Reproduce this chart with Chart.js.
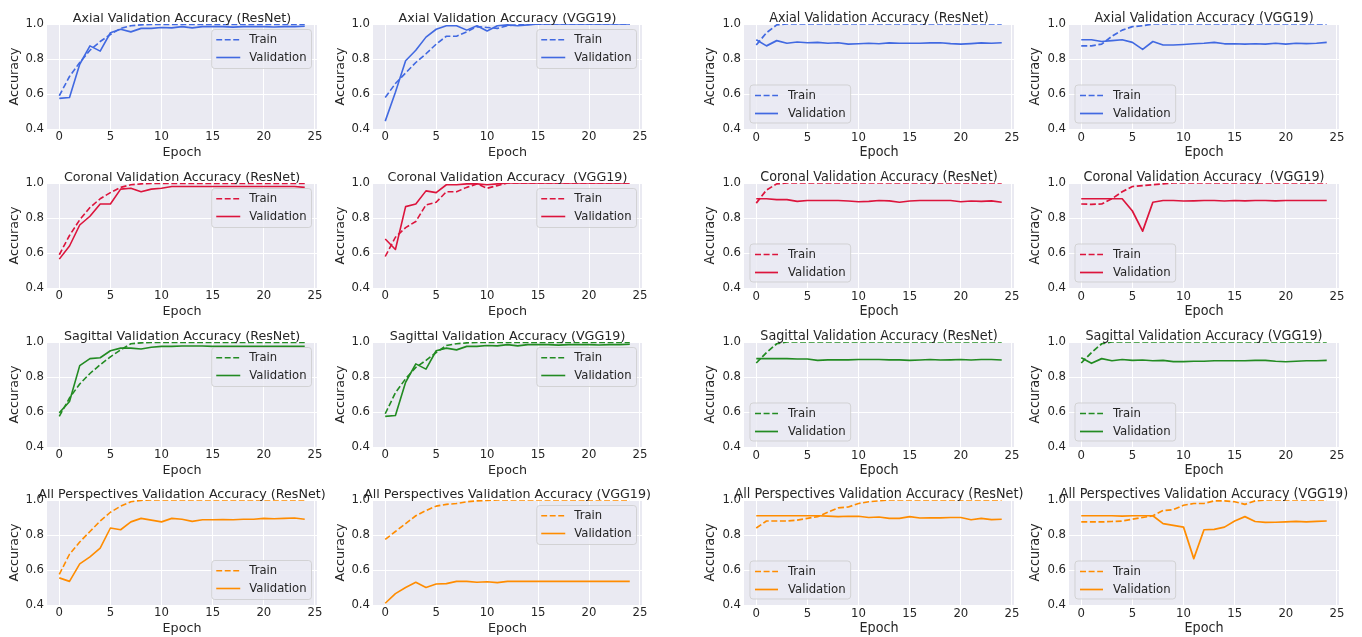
<!DOCTYPE html>
<html><head><meta charset="utf-8">
<script src="https://cdn.jsdelivr.net/npm/chart.js@4.4.1/dist/chart.umd.min.js"></script>
<style>
html,body{margin:0;padding:0;background:#fff;width:1362px;height:637px;overflow:hidden;position:relative}
canvas{position:absolute}
</style></head><body>
<script>
// ---------------- DATA ----------------
const epochs = [0,1,2,3,4,5,6,7,8,9,10,11,12,13,14,15,16,17,18,19,20,21,22,23,24];
const xTicks = [0,5,10,15,20,25];
const yTicks = [0.4,0.6,0.8,1.0];
const seriesLabels = ['Train','Validation'];
const xTitle = 'Epoch';
const yTitle = 'Accuracy';

const titles = [
  'Axial Validation Accuracy (ResNet)','Axial Validation Accuracy (VGG19)','Axial Validation Accuracy (ResNet)','Axial Validation Accuracy (VGG19)',
  'Coronal Validation Accuracy (ResNet)','Coronal Validation Accuracy  (VGG19)','Coronal Validation Accuracy (ResNet)','Coronal Validation Accuracy  (VGG19)',
  'Sagittal Validation Accuracy (ResNet)','Sagittal Validation Accuracy (VGG19)','Sagittal Validation Accuracy (ResNet)','Sagittal Validation Accuracy (VGG19)',
  'All Perspectives Validation Accuracy (ResNet)','All Perspectives Validation Accuracy (VGG19)','All Perspectives Validation Accuracy (ResNet)','All Perspectives Validation Accuracy (VGG19)'
];

// left figure (A)
const axialResnetTrainA = [0.59,0.70,0.78,0.85,0.90,0.94,0.975,0.99,0.995,0.997,0.997,0.997,0.998,0.998,0.998,0.998,0.998,0.998,0.998,0.998,0.998,0.998,0.998,0.998,0.998];
const axialResnetValA   = [0.575,0.58,0.77,0.875,0.845,0.95,0.97,0.955,0.975,0.975,0.98,0.978,0.985,0.978,0.985,0.985,0.985,0.982,0.985,0.985,0.985,0.983,0.985,0.985,0.987];
const axialVggTrainA    = [0.58,0.66,0.72,0.78,0.83,0.885,0.93,0.93,0.955,0.985,0.98,0.975,0.99,0.995,0.998,0.999,1,1,1,1,1,1,1,1,1];
const axialVggValA      = [0.445,0.61,0.79,0.85,0.925,0.97,0.99,0.99,0.965,0.99,0.96,0.99,0.995,0.99,0.995,1,1,1,1,1,1,1,1,1,1];
const coronalResnetTrainA = [0.59,0.70,0.79,0.86,0.91,0.945,0.975,0.99,0.995,0.997,0.998,0.998,0.998,0.998,0.998,0.998,0.998,0.998,0.998,0.998,0.998,0.998,0.998,0.998,0.998];
const coronalResnetValA   = [0.565,0.64,0.76,0.81,0.88,0.88,0.965,0.97,0.95,0.965,0.97,0.98,0.98,0.98,0.98,0.98,0.98,0.98,0.98,0.98,0.98,0.98,0.98,0.98,0.975];
const coronalVggTrainA    = [0.58,0.69,0.745,0.78,0.875,0.89,0.95,0.95,0.975,0.995,0.97,0.985,1,1,1,1,1,1,1,1,1,1,1,1,1];
const coronalVggValA      = [0.68,0.62,0.865,0.88,0.955,0.945,0.99,0.99,0.995,0.995,0.99,0.995,1,1,1,1,1,1,1,1,1,1,1,1,1];
const sagittalResnetTrainA = [0.575,0.68,0.76,0.82,0.87,0.915,0.955,0.99,0.995,0.998,0.998,0.998,0.998,0.998,0.998,0.998,0.998,0.998,0.998,0.998,0.998,0.998,0.998,0.998,0.998];
const sagittalResnetValA   = [0.595,0.66,0.865,0.905,0.91,0.95,0.965,0.965,0.96,0.97,0.975,0.975,0.977,0.977,0.977,0.975,0.975,0.975,0.975,0.975,0.975,0.975,0.975,0.975,0.975];
const sagittalVggTrainA    = [0.59,0.71,0.79,0.855,0.895,0.94,0.98,0.99,0.995,0.998,0.998,0.998,0.998,0.998,0.998,0.998,0.998,0.998,0.998,0.998,0.998,0.998,0.998,0.998,0.998];
const sagittalVggValA      = [0.575,0.58,0.77,0.875,0.845,0.95,0.965,0.955,0.975,0.975,0.98,0.978,0.985,0.978,0.985,0.985,0.985,0.982,0.985,0.985,0.985,0.983,0.985,0.985,0.987];
const allResnetTrainA = [0.575,0.69,0.76,0.82,0.88,0.93,0.965,0.99,0.998,1,1,1,1,1,1,1,1,1,1,1,1,1,1,1,1];
const allResnetValA   = [0.555,0.535,0.635,0.675,0.725,0.84,0.83,0.875,0.895,0.885,0.875,0.895,0.89,0.878,0.887,0.887,0.888,0.887,0.89,0.89,0.895,0.893,0.895,0.897,0.89];
const allVggTrainA    = [0.775,0.82,0.865,0.91,0.94,0.965,0.975,0.98,0.99,0.995,0.998,1,1,1,1,1,1,1,1,1,1,1,1,1,1];
const allVggValA      = [0.41,0.465,0.50,0.53,0.50,0.52,0.522,0.535,0.535,0.53,0.533,0.528,0.535,0.535,0.535,0.535,0.535,0.535,0.535,0.535,0.535,0.535,0.535,0.535,0.535];

// right figure (B)
const axialResnetTrainB = [0.88,0.95,0.995,1,1,1,1,1,1,1,1,1,1,1,1,1,1,1,1,1,1,1,1,1,1];
const axialResnetValB   = [0.91,0.875,0.905,0.89,0.897,0.893,0.895,0.89,0.893,0.885,0.887,0.89,0.887,0.892,0.89,0.89,0.89,0.892,0.893,0.888,0.885,0.888,0.892,0.89,0.893];
const axialVggTrainB    = [0.875,0.875,0.885,0.93,0.965,0.985,0.99,1,1,1,1,1,1,1,1,1,1,1,1,1,1,1,1,1,1];
const axialVggValB      = [0.91,0.91,0.9,0.905,0.91,0.895,0.855,0.9,0.88,0.88,0.883,0.887,0.89,0.895,0.887,0.887,0.885,0.887,0.885,0.89,0.885,0.89,0.888,0.89,0.895];
const coronalResnetTrainB = [0.885,0.96,0.995,1,1,1,1,1,1,1,1,1,1,1,1,1,1,1,1,1,1,1,1,1,1];
const coronalResnetValB   = [0.91,0.91,0.905,0.905,0.895,0.9,0.9,0.9,0.9,0.897,0.893,0.895,0.9,0.898,0.89,0.897,0.9,0.9,0.9,0.9,0.893,0.897,0.895,0.898,0.89];
const coronalVggTrainB    = [0.88,0.878,0.88,0.91,0.95,0.98,0.985,0.99,0.995,1,1,1,1,1,1,1,1,1,1,1,1,1,1,1,1];
const coronalVggValB      = [0.91,0.91,0.91,0.91,0.91,0.84,0.725,0.89,0.9,0.9,0.897,0.898,0.9,0.9,0.897,0.9,0.898,0.9,0.9,0.898,0.9,0.9,0.9,0.9,0.9];
const sagittalResnetTrainB = [0.88,0.94,0.99,1,1,1,1,1,1,1,1,1,1,1,1,1,1,1,1,1,1,1,1,1,1];
const sagittalResnetValB   = [0.905,0.905,0.905,0.905,0.903,0.903,0.895,0.898,0.898,0.898,0.9,0.9,0.9,0.898,0.898,0.895,0.897,0.9,0.897,0.898,0.9,0.897,0.9,0.9,0.897];
const sagittalVggTrainB    = [0.88,0.94,0.99,1,1,1,1,1,1,1,1,1,1,1,1,1,1,1,1,1,1,1,1,1,1];
const sagittalVggValB      = [0.91,0.878,0.905,0.893,0.9,0.895,0.897,0.893,0.895,0.888,0.888,0.89,0.89,0.893,0.893,0.893,0.893,0.895,0.895,0.89,0.887,0.89,0.893,0.893,0.895];
const allResnetTrainB = [0.84,0.88,0.88,0.88,0.885,0.895,0.905,0.93,0.955,0.96,0.98,0.99,0.995,1,1,1,1,1,1,1,1,1,1,1,1];
const allResnetValB   = [0.91,0.91,0.91,0.91,0.91,0.91,0.91,0.908,0.905,0.907,0.907,0.9,0.903,0.895,0.895,0.905,0.897,0.898,0.898,0.9,0.9,0.887,0.895,0.888,0.89];
const allVggTrainB    = [0.875,0.875,0.875,0.877,0.88,0.89,0.9,0.91,0.94,0.945,0.97,0.98,0.98,0.995,0.995,0.99,0.975,0.995,1,1,1,1,1,1,1];
const allVggValB      = [0.91,0.91,0.91,0.91,0.908,0.91,0.91,0.91,0.865,0.855,0.845,0.665,0.83,0.832,0.845,0.88,0.905,0.877,0.872,0.873,0.875,0.878,0.875,0.878,0.88];

const panelSeries = [
  [axialResnetTrainA, axialResnetValA], [axialVggTrainA, axialVggValA], [axialResnetTrainB, axialResnetValB], [axialVggTrainB, axialVggValB],
  [coronalResnetTrainA, coronalResnetValA], [coronalVggTrainA, coronalVggValA], [coronalResnetTrainB, coronalResnetValB], [coronalVggTrainB, coronalVggValB],
  [sagittalResnetTrainA, sagittalResnetValA], [sagittalVggTrainA, sagittalVggValA], [sagittalResnetTrainB, sagittalResnetValB], [sagittalVggTrainB, sagittalVggValB],
  [allResnetTrainA, allResnetValA], [allVggTrainA, allVggValA], [allResnetTrainB, allResnetValB], [allVggTrainB, allVggValB]
];

// ---------------- STYLE / LAYOUT ----------------
const rowColors = ['#4169E1','#DC143C','#228B22','#FF8C00'];
const colLeft  = [47, 373, 744, 1069];
const colRight = [317, 642, 1014, 1339];
const rowTop   = [24, 183, 342, 500];
const plotH = 105;
const TEXT = '#262626';

const SIDE_A = {font:"'DejaVu Sans', sans-serif", titleSize:12.7, labelSize:12.7, tickSize:11.7, legendSize:11.6,
  padL:14, padT:30, padR:24, padB:6, axW:40, axH:31, titleGap:2.5, lw:1.6, dash:[5.9,2.6],
  leg:{margin:5.5, padX:4.5, handle:24, gap:9, padR:5, first:10.3, rowGap:17.7, boxH:39}};
const SIDE_B = {font:"'DejaVu Sans Condensed', 'Liberation Sans Narrow', 'DejaVu Sans', sans-serif", titleSize:14.2, labelSize:14.2, tickSize:13, legendSize:13,
  padL:14, padT:30, padR:24, padB:6, axW:42, axH:32, titleGap:2.5, lw:1.7, dash:[6,2.6],
  leg:{margin:6, padX:5, handle:23, gap:10, padR:5, first:10.5, rowGap:18, boxH:38}};

function legendPos(r, c) {
  if (c >= 2) return 'll';
  if (c === 0 && r === 3) return 'lr';
  return 'ur';
}

const bgPlugin = {
  id: 'plotBg',
  beforeDraw(chart) {
    const {ctx, chartArea: a} = chart;
    ctx.save();
    ctx.fillStyle = '#EAEAF2';
    ctx.fillRect(a.left, a.top, a.right - a.left, a.bottom - a.top);
    ctx.restore();
  }
};
const titlePlugin = {
  id: 'panelTitle',
  afterDraw(chart, args, o) {
    const {ctx, chartArea: a} = chart;
    ctx.save();
    ctx.font = o.size + 'px ' + o.family;
    ctx.fillStyle = TEXT;
    ctx.textAlign = 'center';
    ctx.textBaseline = 'alphabetic';
    ctx.fillText(o.text, (a.left + a.right) / 2, a.top - o.gap);
    ctx.restore();
  }
};
const legendPlugin = {
  id: 'boxLegend',
  afterDatasetsDraw(chart, args, o) {
    const {ctx, chartArea: a} = chart;
    const g = o.geom;
    ctx.save();
    ctx.font = o.size + 'px ' + o.family;
    const dsets = chart.data.datasets;
    let tw = 0;
    dsets.forEach(d => { tw = Math.max(tw, ctx.measureText(d.label).width); });
    const w = g.padX + g.handle + g.gap + tw + g.padR;
    const h = g.boxH;
    let x, y;
    if (o.pos === 'ur') { x = a.right - g.margin - w; y = a.top + g.margin; }
    else if (o.pos === 'lr') { x = a.right - g.margin - w; y = a.bottom - g.margin - h; }
    else { x = a.left + g.margin; y = a.bottom - g.margin - h; }
    ctx.beginPath();
    ctx.roundRect(x, y, w, h, 3);
    ctx.fillStyle = 'rgba(234,234,242,0.8)';
    ctx.fill();
    ctx.strokeStyle = 'rgba(204,204,204,0.8)';
    ctx.lineWidth = 1;
    ctx.stroke();
    dsets.forEach((d, i) => {
      const cy = y + g.first + i * g.rowGap;
      ctx.beginPath();
      ctx.setLineDash(d.borderDash || []);
      ctx.strokeStyle = d.borderColor;
      ctx.lineWidth = d.borderWidth;
      ctx.moveTo(x + g.padX, cy);
      ctx.lineTo(x + g.padX + g.handle, cy);
      ctx.stroke();
      ctx.setLineDash([]);
      ctx.fillStyle = TEXT;
      ctx.textAlign = 'left';
      ctx.textBaseline = 'middle';
      ctx.fillText(d.label, x + g.padX + g.handle + g.gap, cy);
    });
    ctx.restore();
  }
};

function makeChart(r, c) {
  const idx = r * 4 + c;
  const S = c < 2 ? SIDE_A : SIDE_B;
  const color = rowColors[r];
  const L = colLeft[c], R = colRight[c], T = rowTop[r];
  const W = R - L;
  const cw = S.padL + S.axW + W + S.padR;
  const ch = S.padT + plotH + S.axH + S.padB;
  const cv = document.createElement('canvas');
  cv.width = cw; cv.height = ch;
  cv.style.left = (L - S.axW - S.padL) + 'px';
  cv.style.top = (T - S.padT) + 'px';
  cv.style.width = cw + 'px'; cv.style.height = ch + 'px';
  document.body.appendChild(cv);
  const [train, val] = panelSeries[idx];
  const mk = (arr) => epochs.map((e, i) => ({x: e, y: arr[i]}));
  const tickFont = {family: S.font, size: S.tickSize};
  const labelFont = {family: S.font, size: S.labelSize};
  new Chart(cv, {
    type: 'line',
    data: {datasets: [
      {label: seriesLabels[0], data: mk(train), borderColor: color, backgroundColor: color, borderWidth: S.lw, borderDash: S.dash,
       pointRadius: 0, tension: 0, fill: false, clip: 0, borderJoinStyle: 'round'},
      {label: seriesLabels[1], data: mk(val), borderColor: color, backgroundColor: color, borderWidth: S.lw,
       pointRadius: 0, tension: 0, fill: false, clip: 0, borderJoinStyle: 'round'}
    ]},
    options: {
      responsive: false, animation: false, devicePixelRatio: 1,
      layout: {padding: {left: S.padL, top: S.padT, right: S.padR, bottom: S.padB}},
      plugins: {
        legend: {display: false}, tooltip: {enabled: false}, title: {display: false},
        panelTitle: {text: titles[idx], family: S.font, size: S.titleSize, gap: S.titleGap},
        boxLegend: {pos: legendPos(r, c), family: S.font, size: S.legendSize, geom: S.leg}
      },
      scales: {
        x: {
          type: 'linear', min: -1.2, max: 25.2,
          afterBuildTicks: s => { s.ticks = xTicks.map(v => ({value: v})); },
          afterFit: s => { s.height = S.axH; },
          grid: {color: '#ffffff', lineWidth: 1, drawTicks: false},
          border: {display: false},
          ticks: {color: TEXT, font: tickFont, padding: 1, maxRotation: 0, autoSkip: false, callback: v => String(v)},
          title: {display: true, text: xTitle, color: TEXT, font: labelFont, padding: 0}
        },
        y: {
          type: 'linear', min: 0.4, max: 1.0,
          afterBuildTicks: s => { s.ticks = yTicks.map(v => ({value: v})); },
          afterFit: s => { s.width = S.axW; },
          grid: {color: '#ffffff', lineWidth: 1, drawTicks: false},
          border: {display: false},
          ticks: {color: TEXT, font: tickFont, padding: 3, autoSkip: false, callback: v => Number(v).toFixed(1)},
          title: {display: true, text: yTitle, color: TEXT, font: labelFont, padding: 0}
        }
      }
    },
    plugins: [bgPlugin, titlePlugin, legendPlugin]
  });
}

for (let r = 0; r < 4; r++) for (let c = 0; c < 4; c++) makeChart(r, c);
</script>
</body></html>
